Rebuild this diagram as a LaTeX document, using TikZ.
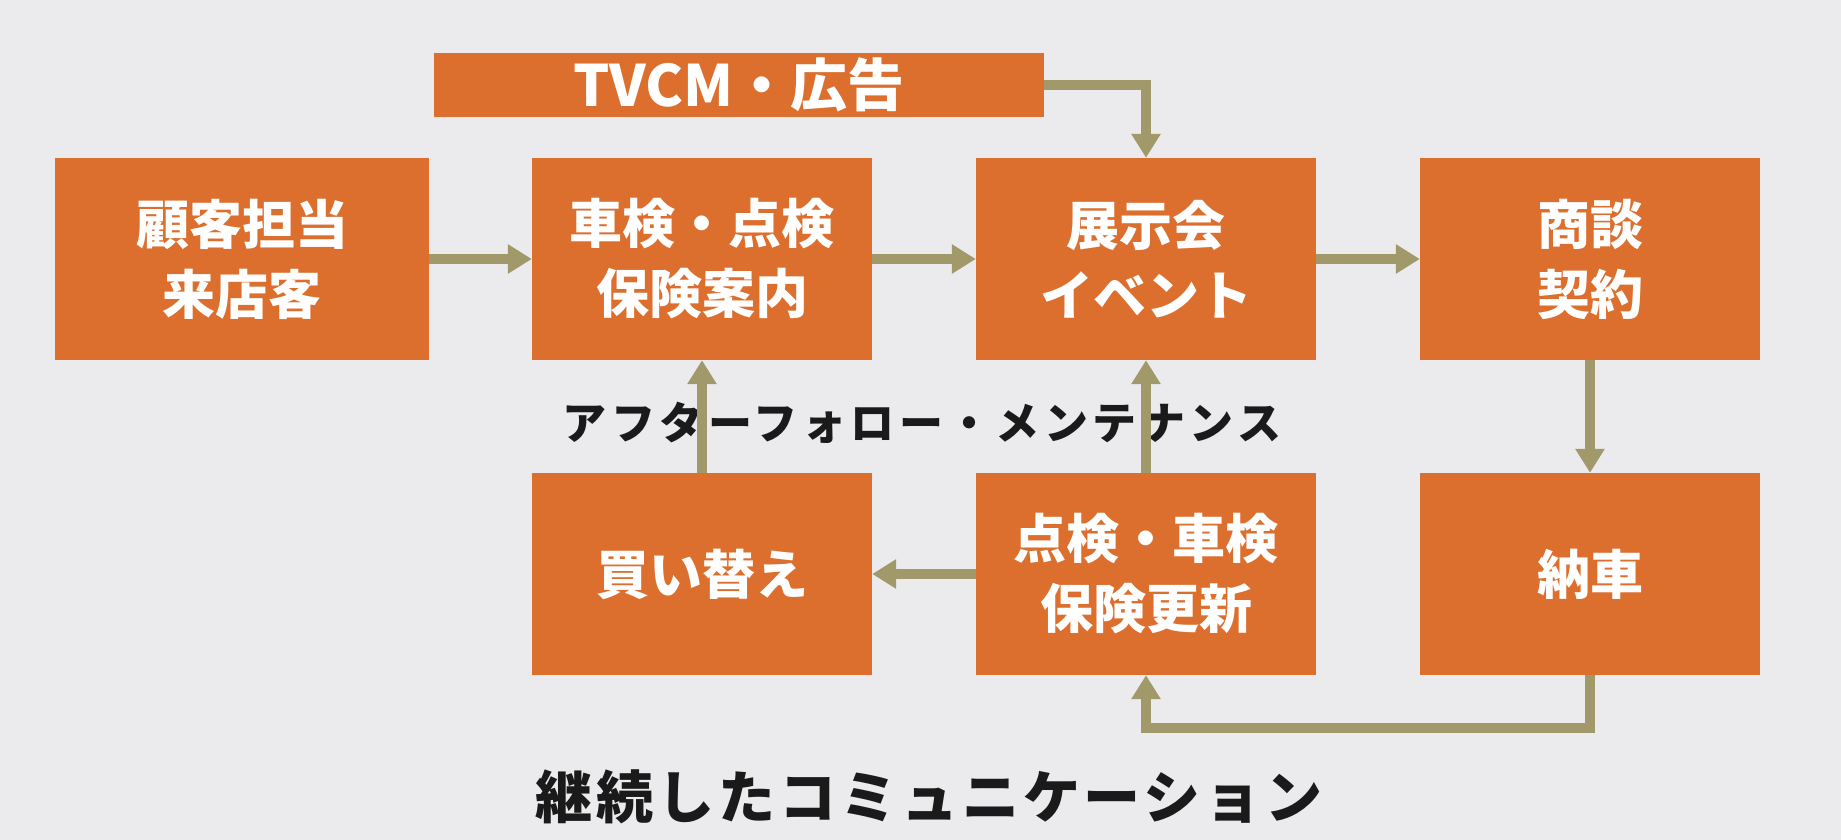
\documentclass[tikz,border=0pt]{standalone}
\usepackage{fontspec}
\newfontfamily\jp{Noto Sans CJK JP}
\newfontfamily\jpsp{Noto Sans CJK JP}[LetterSpace=10]
\newfontfamily\jpspb{Noto Sans CJK JP}[LetterSpace=7]
\usetikzlibrary{arrows.meta}
\definecolor{boxor}{HTML}{DC6E2E}
\definecolor{arr}{HTML}{A1996A}
\definecolor{bgc}{HTML}{EBEBEE}
\definecolor{ink}{HTML}{1A1A1A}
\begin{document}
\begin{tikzpicture}[x=1pt,y=-1pt,
  box/.style={fill=boxor, text=white, minimum width=340pt, minimum height=202pt,
    inner sep=0pt, align=center, font=\jp\bfseries\fontsize{53}{70}\selectfont},
  arrow/.style={draw=arr, line width=9.5pt, -{Triangle[width=28pt,length=24pt]}},
  lbl/.style={text=ink, inner sep=0pt}]
\fill[bgc] (0,0) rectangle (1841,840);
\useasboundingbox (0,0) rectangle (1841,840);

\node[box, minimum width=610pt, minimum height=64pt, font=\jp\bfseries\fontsize{57}{60}\selectfont] (tvcm) at (739,85) {TVCM・広告};
\node[box, minimum width=374pt] (kokyaku) at (242,259) {顧客担当\\来店客};
\node[box] (shaken) at (702,259) {車検・点検\\保険案内};
\node[box] (tenji) at (1146,259) {展示会\\イベント};
\node[box] (shodan) at (1590,259) {商談\\契約};
\node[box] (kaikae) at (702,574) {買い替え};
\node[box] (tenken) at (1146,574) {点検・車検\\保険更新};
\node[box] (nosha) at (1590,574) {納車};

\node[lbl, font=\jpsp\bfseries\fontsize{44}{48}\selectfont] (after) at (922,423) {アフターフォロー・メンテナンス};
\node[lbl, font=\jpspb\bfseries\fontsize{57}{60}\selectfont] (keizoku) at (929,797) {継続したコミュニケーション};

\coordinate (bend) at (1146,728);

\draw[arrow] (tvcm.east) -| (tenji.north);
\draw[arrow] (kokyaku) -- (shaken);
\draw[arrow] (shaken) -- (tenji);
\draw[arrow] (tenji) -- (shodan);
\draw[arrow] (shodan) -- (nosha);
\draw[arrow] (nosha.south) |- (bend) -- (tenken.south);
\draw[arrow] (tenken) -- (kaikae);
\draw[arrow] (kaikae) -- (shaken);
\draw[arrow] (tenken) -- (tenji);
\end{tikzpicture}
\end{document}
